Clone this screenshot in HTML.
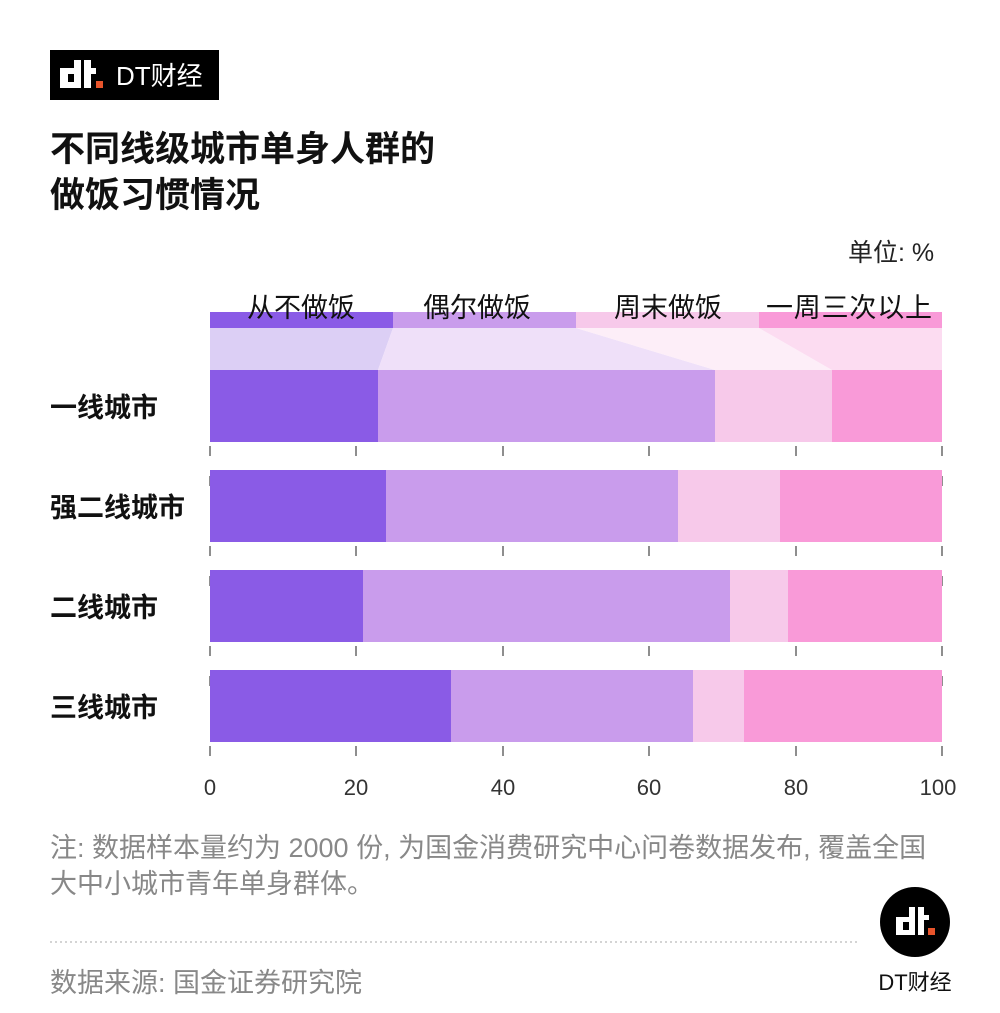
<!DOCTYPE html>
<html><head><meta charset="utf-8"><style>
body{margin:0;width:1000px;height:1013px;background:#fff;font-family:"Liberation Sans","Noto Sans CJK SC",sans-serif;position:relative;overflow:hidden}
.a{position:absolute}
</style></head><body>
<div class="a" style="left:50px;top:50px;width:169px;height:50px;background:#000"></div>
<svg class="a" style="left:50px;top:50px" width="169" height="50">
<rect x="10" y="18" width="8" height="20" fill="#fff"/><rect x="10" y="18" width="20" height="6" fill="#fff"/><rect x="10" y="32" width="20" height="6" fill="#fff"/><rect x="24" y="10" width="7" height="28" fill="#fff"/>
<rect x="34" y="10" width="7" height="28" fill="#fff"/><rect x="34" y="18" width="12" height="6" fill="#fff"/><rect x="46" y="31" width="7" height="7" fill="#e8542b"/>
<text x="66" y="35" fill="#fff" font-size="26" font-family="Liberation Sans,Noto Sans CJK SC,sans-serif">DT财经</text></svg>
<div class="a" style="left:50px;top:127px;font-size:35px;font-weight:bold;line-height:46px;color:#111">不同线级城市单身人群的<br>做饭习惯情况</div>
<div class="a" style="left:848px;top:233px;font-size:25px;color:#222">单位: %</div>
<svg class="a" style="left:0;top:0" width="1000" height="1013">
<rect x="210" y="312" width="183" height="16" fill="#8a5be6"/><rect x="393" y="312" width="183" height="16" fill="#c99cec"/><rect x="576" y="312" width="183" height="16" fill="#f7c9ea"/><rect x="759" y="312" width="183" height="16" fill="#f99ad8"/>
<g fill="#111" font-size="27" font-family="Liberation Sans,Noto Sans CJK SC,sans-serif">
<text x="247" y="317">从不做饭</text><text x="423" y="317">偶尔做饭</text><text x="614" y="317">周末做饭</text><text x="766" y="317" textLength="166">一周三次以上</text></g>
<polygon points="210,328 393,328 378,370 210,370" fill="#dccff5"/>
<polygon points="393,328 576,328 715,370 378,370" fill="#efe0f9"/>
<polygon points="576,328 759,328 832,370 715,370" fill="#fdeef8"/>
<polygon points="759,328 942,328 942,370 832,370" fill="#fcdcf1"/>
<g stroke="#444" stroke-width="1.2">
<g stroke-dasharray="10,90" stroke-dashoffset="-4">
<line x1="210" y1="442" x2="210" y2="770"/><line x1="356" y1="442" x2="356" y2="770"/><line x1="503" y1="442" x2="503" y2="770"/><line x1="649" y1="442" x2="649" y2="770"/><line x1="796" y1="442" x2="796" y2="770"/><line x1="942" y1="442" x2="942" y2="770"/></g>
<g stroke-dasharray="10,90" stroke-dashoffset="-34">
<line x1="210" y1="442" x2="210" y2="770"/><line x1="356" y1="442" x2="356" y2="770"/><line x1="503" y1="442" x2="503" y2="770"/><line x1="649" y1="442" x2="649" y2="770"/><line x1="796" y1="442" x2="796" y2="770"/><line x1="942" y1="442" x2="942" y2="770"/></g>
</g>
<g>
<rect x="210" y="370" width="168" height="72" fill="#8a5be6"/><rect x="378" y="370" width="337" height="72" fill="#c99cec"/><rect x="715" y="370" width="117" height="72" fill="#f7c9ea"/><rect x="832" y="370" width="110" height="72" fill="#f99ad8"/>
<rect x="210" y="470" width="176" height="72" fill="#8a5be6"/><rect x="386" y="470" width="292" height="72" fill="#c99cec"/><rect x="678" y="470" width="102" height="72" fill="#f7c9ea"/><rect x="780" y="470" width="162" height="72" fill="#f99ad8"/>
<rect x="210" y="570" width="153" height="72" fill="#8a5be6"/><rect x="363" y="570" width="367" height="72" fill="#c99cec"/><rect x="730" y="570" width="58" height="72" fill="#f7c9ea"/><rect x="788" y="570" width="154" height="72" fill="#f99ad8"/>
<rect x="210" y="670" width="241" height="72" fill="#8a5be6"/><rect x="451" y="670" width="242" height="72" fill="#c99cec"/><rect x="693" y="670" width="51" height="72" fill="#f7c9ea"/><rect x="744" y="670" width="198" height="72" fill="#f99ad8"/></g>
<g font-size="27" font-weight="bold" fill="#111" font-family="Liberation Sans,Noto Sans CJK SC,sans-serif">
<text x="50" y="417">一线城市</text><text x="50" y="517">强二线城市</text><text x="50" y="617">二线城市</text><text x="50" y="717">三线城市</text></g>
<g font-size="22" fill="#333" text-anchor="middle" font-family="Liberation Sans,sans-serif">
<text x="210" y="795">0</text><text x="356" y="795">20</text><text x="503" y="795">40</text><text x="649" y="795">60</text><text x="796" y="795">80</text><text x="938" y="795">100</text></g>
<line x1="50" y1="942" x2="860" y2="942" stroke="#aaa" stroke-dasharray="2,3"/>
<circle cx="915" cy="922" r="35" fill="#000"/>
<rect x="896" y="917" width="7" height="18" fill="#fff"/><rect x="896" y="917" width="18" height="5" fill="#fff"/><rect x="896" y="930" width="18" height="5" fill="#fff"/><rect x="909" y="907" width="6" height="28" fill="#fff"/>
<rect x="918" y="907" width="6" height="28" fill="#fff"/><rect x="918" y="915" width="11" height="5" fill="#fff"/><rect x="928" y="928" width="7" height="7" fill="#e8542b"/>
<text x="915" y="990" font-size="22" text-anchor="middle" fill="#111" font-family="Liberation Sans,Noto Sans CJK SC,sans-serif">DT财经</text>
</svg>
<div class="a" style="left:50px;top:830px;font-size:27px;line-height:36px;color:#888;width:940px;white-space:nowrap">注: 数据样本量约为 2000 份, 为国金消费研究中心问卷数据发布, 覆盖全国<br>大中小城市青年单身群体。</div>
<div class="a" style="left:50px;top:961px;font-size:27px;color:#888">数据来源: 国金证券研究院</div>
</body></html>
